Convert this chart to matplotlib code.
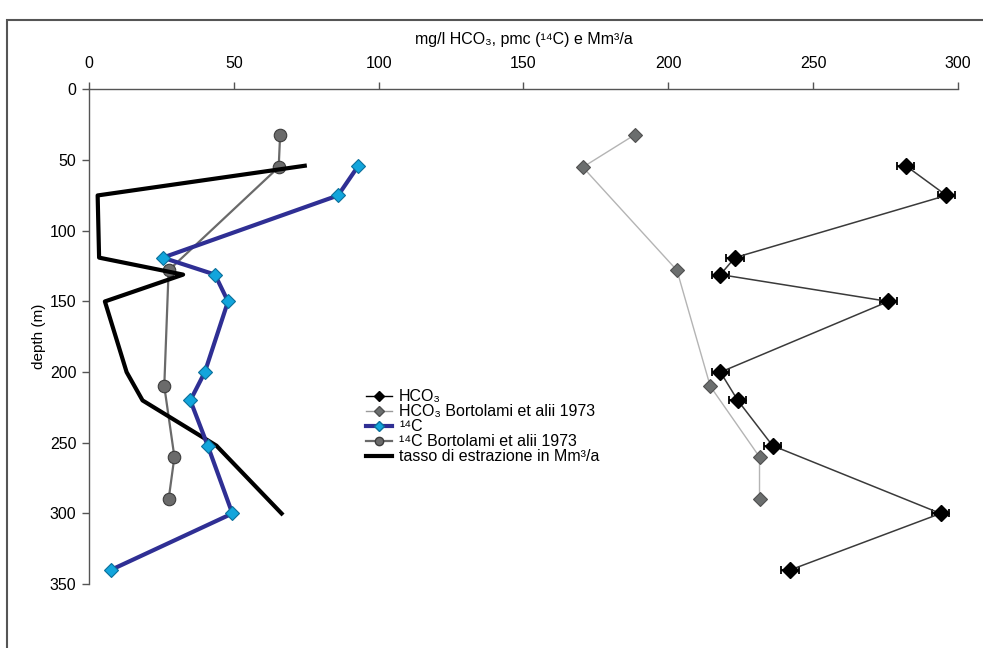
import matplotlib
matplotlib.use('Agg')
import matplotlib.pyplot as plt
from matplotlib.lines import Line2D
from matplotlib.patches import Rectangle

plt.rcParams['font.family'] = ['Liberation Sans', 'DejaVu Sans']

# campionamenti attuali (profondità comuni)
depth = [54, 75, 119, 131, 150, 200, 220, 252, 300, 340]
hco3 = [282, 296, 223, 218, 276, 218, 224, 236, 294, 242]
hco3_err = [3, 3, 3, 3, 3, 3, 3, 3, 3, 3]
c14 = [93, 86, 25.5, 43.5, 48, 40, 35, 41, 49.5, 7.5]

# tasso di estrazione (senza il punto più profondo)
depth_tasso = [54, 75, 119, 131, 150, 200, 220, 252, 300]
tasso = [74.5, 3, 3.5, 32.5, 5.5, 13, 18.5, 44, 66.5]

# dati Bortolami et alii 1973
depth_bort = [32, 55, 128, 210, 260, 290]
hco3_bort = [188.5, 170.5, 203, 214.5, 231.5, 231.5]
c14_bort = [66, 65.5, 27.5, 26, 29.5, 27.5]

blu = '#2f2f94'
ciano = '#12a5dc'

fig = plt.figure(figsize=(9.83, 6.48), dpi=100)
ax = fig.add_axes([0.0905, 0.0985, 0.884, 0.7635])

ax.plot(hco3_bort, depth_bort, color='#b4b4b4', lw=1.0, marker='D', ms=7,
        mfc='#6b6e6e', mec='#505050', mew=0.8, zorder=3)
ax.errorbar(hco3, depth, xerr=hco3_err, color='#3a3a3a', lw=1.1, marker='D', ms=8,
            mfc='black', mec='black', ecolor='black', elinewidth=1.3, capsize=3,
            capthick=1.3, zorder=4)
ax.plot(c14_bort, depth_bort, color='#6a6a6a', lw=1.6, marker='o', ms=9,
        mfc='#6b6b6b', mec='#3c3c3c', mew=0.8, zorder=3)
ax.plot(tasso, depth_tasso, color='black', lw=3.0, zorder=4)
ax.plot(c14, depth, color=blu, lw=3.0, zorder=5)
ax.plot(c14, depth, ls='none', marker='D', ms=7.5, mfc=ciano, mec='#0b6f9a',
        mew=0.8, zorder=6)

ax.set_xlim(0, 300)
ax.set_ylim(350, 0)
ax.set_xticks(range(0, 301, 50))
ax.set_yticks(range(0, 351, 50))
ax.xaxis.tick_top()
ax.xaxis.set_label_position('top')
ax.spines['right'].set_visible(False)
ax.spines['bottom'].set_visible(False)
for s in ('top', 'left'):
    ax.spines[s].set_color('#555555')
    ax.spines[s].set_linewidth(1.0)
ax.tick_params(axis='both', direction='out', length=5, width=1, color='#555555',
               labelsize=11.5, pad=4)
ax.tick_params(axis='x', pad=8)
ax.set_xlabel('mg/l HCO₃, pmc (¹⁴C) e Mm³/a', fontsize=11.5, labelpad=9)
ax.set_ylabel('depth (m)', fontsize=11, labelpad=3)

handles = [
    Line2D([], [], color='black', lw=1.0, marker='D', ms=5, mfc='black', mec='black'),
    Line2D([], [], color='#9a9a9a', lw=1.0, marker='D', ms=5, mfc='#6b6e6e', mec='#505050'),
    Line2D([], [], color=blu, lw=3.0, marker='D', ms=5, mfc=ciano, mec='#0b6f9a'),
    Line2D([], [], color='#6a6a6a', lw=1.6, marker='o', ms=6, mfc='#6b6b6b', mec='#3c3c3c'),
    Line2D([], [], color='black', lw=3.0),
]
labels = ['HCO₃', 'HCO₃ Bortolami et alii 1973', '¹⁴C',
          '¹⁴C Bortolami et alii 1973', 'tasso di estrazione in Mm³/a']
fig.legend(handles, labels, loc='upper left', bbox_to_anchor=(0.3645, 0.4115),
           frameon=False, fontsize=11.5, handlelength=1.6, handletextpad=0.45,
           labelspacing=0.0, borderpad=0)

# cornice esterna
fig.patches.append(Rectangle((7 / 983, -0.1), 1.2, 1 - 20 / 648 + 0.1,
                             transform=fig.transFigure, fill=False,
                             edgecolor='#555555', lw=1.5))

fig.savefig('out.png', dpi=100)
